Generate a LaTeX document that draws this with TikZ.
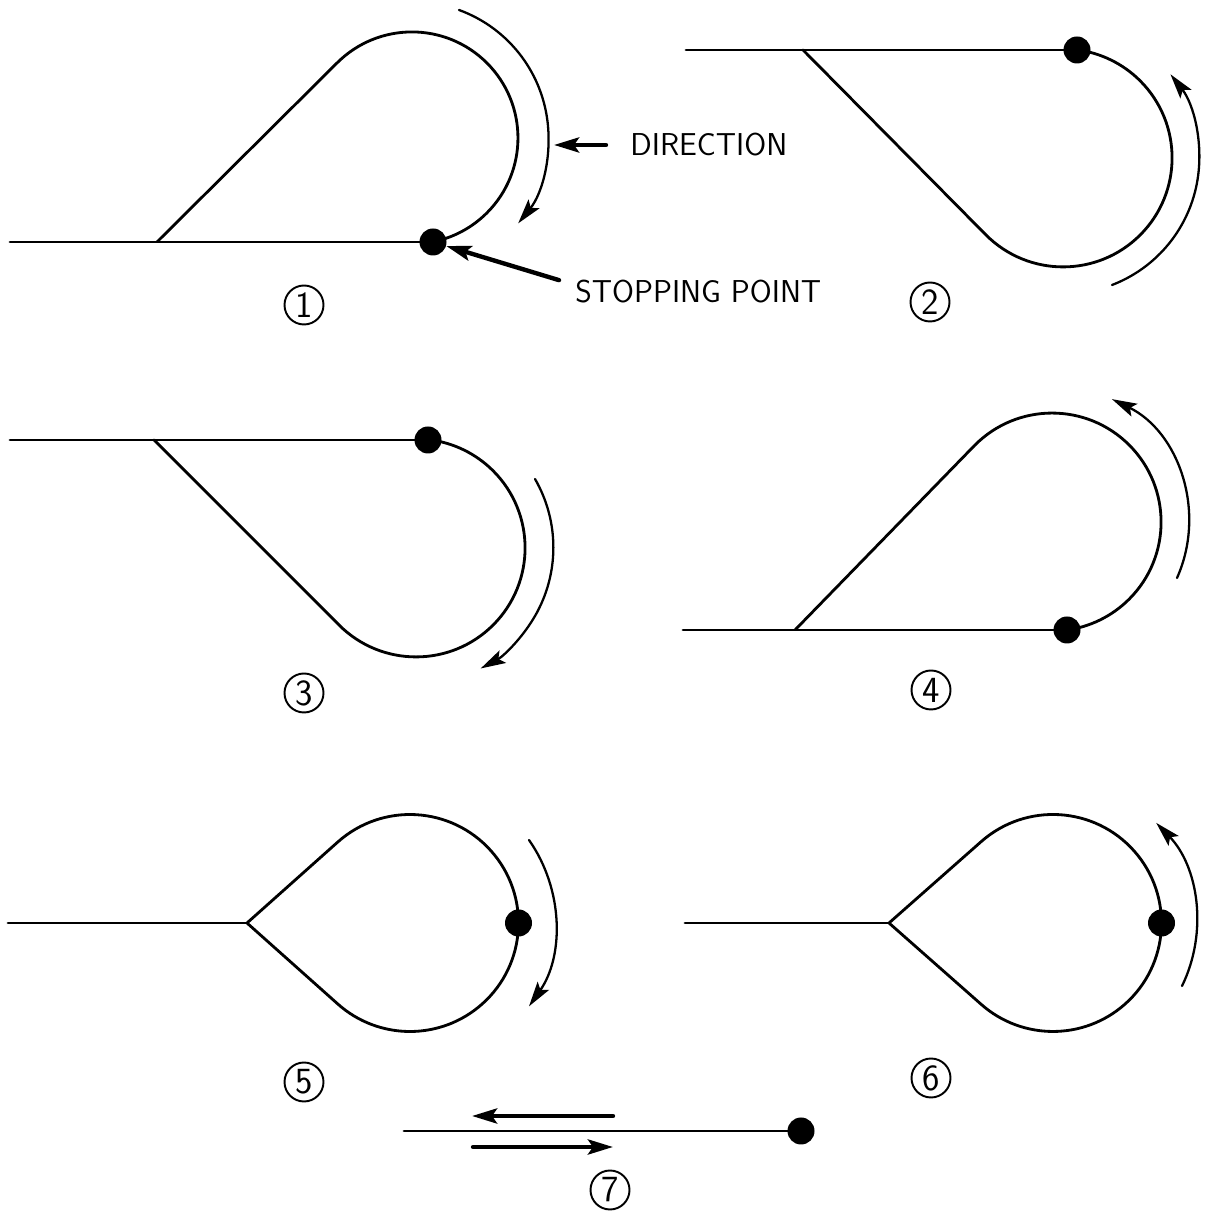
\documentclass[tikz,border=0pt]{standalone}
\usetikzlibrary{arrows.meta}

\tikzset{
	track/.style={line width=1.6pt},
	dirarc/.style={line width=1.3pt, -{Stealth[length=5mm, width=2.8mm, inset=1mm]}},
	pointer/.style={line width=2.5pt, -{Stealth[length=5mm, width=3mm, inset=1mm]}},
	stopdot/.style={circle, fill=black, inner sep=0pt, minimum size=5.4mm},
	numlabel/.style={circle, draw, line width=1.1pt, inner sep=0pt, minimum size=7.8mm, font=\fontsize{21}{21}\selectfont\sffamily},
	caption/.style={inner sep=0pt, font=\fontsize{18}{20}\selectfont\sffamily}
}

\begin{document}
\begin{tikzpicture}[scale=2, line join=round, line cap=round]

	\useasboundingbox (0,0) rectangle (12.09,12.20);

	% --- 1 ---
	\draw[track] (0.10,9.78) -- (4.33,9.78);
	\draw[track] (1.57,9.78) -- (3.37,11.57) arc[start angle=135, end angle=-78, radius=1.06];
	\node[stopdot] (d1) at (4.33,9.78) {};
	\draw[dirarc] (4.59,12.10) arc[start angle=70, end angle=-39, radius=1.36];
	\node[numlabel] (n1) at (3.04,9.15) {1};

	\node[caption, anchor=west] (dirtext) at (6.30,10.75) {DIRECTION};
	\coordinate (dirtip) at (5.54,10.75);
	\draw[pointer] ([xshift=-2.4mm]dirtext.west) -- (dirtip);

	\node[caption, anchor=west] (stoptext) at (5.75,9.28) {STOPPING POINT};
	\draw[pointer] ([xshift=-1.6mm]stoptext.north west) -- (d1);

	% --- 2 ---
	\draw[track] (6.86,11.70) -- (10.77,11.70);
	\draw[track] (8.03,11.70) -- (9.86,9.85) arc[start angle=225, end angle=443, radius=1.09];
	\node[stopdot] (d2) at (10.77,11.70) {};
	\draw[dirarc] (11.12,9.35) arc[start angle=-69, end angle=38, radius=1.36];
	\node[numlabel] (n2) at (9.30,9.18) {2};

	% --- 3 ---
	\draw[track] (0.10,7.80) -- (4.28,7.80);
	\draw[track] (1.54,7.80) -- (3.39,5.95) arc[start angle=225, end angle=443, radius=1.09];
	\node[stopdot] (d3) at (4.28,7.80) {};
	\draw[dirarc] (5.35,7.41) arc[start angle=30, end angle=-62, radius=1.37];
	\node[numlabel] (n3) at (3.04,5.27) {3};

	% --- 4 ---
	\draw[track] (6.83,5.90) -- (10.67,5.90);
	\draw[track] (7.95,5.90) -- (9.75,7.75) arc[start angle=135, end angle=-83, radius=1.09];
	\node[stopdot] (d4) at (10.67,5.90) {};
	\draw[dirarc] (11.77,6.42) arc[start angle=-24, end angle=64, radius=1.37];
	\node[numlabel] (n4) at (9.31,5.30) {4};

	% --- 5 ---
	\draw[track] (0.08,2.97) -- (2.47,2.97);
	\draw[track] (2.47,2.97) -- (3.378,3.78) arc[start angle=131.7, end angle=-131.7, radius=1.085] -- (2.47,2.97);
	\node[stopdot] (d5) at (5.185,2.97) {};
	\draw[dirarc] (5.29,3.80) arc[start angle=35, end angle=-35, radius=1.45];
	\node[numlabel] (n5) at (3.04,1.38) {5};

	% --- 6 ---
	\draw[track] (6.85,2.97) -- (8.89,2.97);
	\draw[track] (8.89,2.97) -- (9.812,3.784) arc[start angle=131.4, end angle=-131.4, radius=1.085] -- (8.89,2.97);
	\node[stopdot] (d6) at (11.615,2.97) {};
	\draw[dirarc] (11.82,2.34) arc[start angle=-26, end angle=44, radius=1.44];
	\node[numlabel] (n6) at (9.31,1.42) {6};

	% --- 7 ---
	\draw[track] (4.04,0.89) -- (8.01,0.89);
	\node[stopdot] (d7) at (8.01,0.89) {};
	\draw[pointer] (6.13,1.04) -- (4.72,1.04);
	\draw[pointer] (4.73,0.73) -- (6.13,0.73);
	\node[numlabel] (n7) at (6.10,0.30) {7};

\end{tikzpicture}
\end{document}
